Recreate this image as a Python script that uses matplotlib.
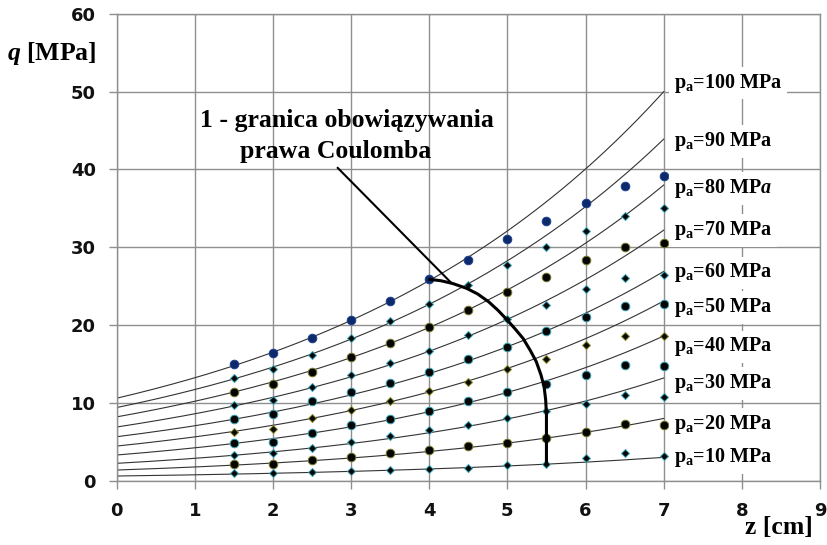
import numpy as np
import matplotlib
matplotlib.use("Agg")
import matplotlib.pyplot as plt

plt.rcParams["mathtext.fontset"] = "custom"
plt.rcParams["mathtext.rm"] = "Liberation Serif:bold"
plt.rcParams["mathtext.bf"] = "Liberation Serif:bold"
plt.rcParams["mathtext.it"] = "Liberation Serif:bold:italic"

# depth z [cm] of the computed points
z_points = [1.5, 2.0, 2.5, 3.0, 3.5, 4.0, 4.5, 5.0, 5.5, 6.0, 6.5, 7.0]

# load q [MPa] for each anchor pressure p_a
q_pa100 = [15.0, 16.4, 18.4, 20.7, 23.1, 25.9, 28.4, 31.1, 33.4, 35.7, 37.9, 39.2]
q_pa90 = [13.2, 14.4, 16.1, 18.3, 20.5, 22.7, 25.2, 27.7, 30.0, 32.1, 34.0, 35.0]
q_pa80 = [11.4, 12.4, 14.0, 15.9, 17.7, 19.8, 21.9, 24.3, 26.2, 28.4, 30.0, 30.6]
q_pa70 = [9.7, 10.4, 12.0, 13.6, 15.1, 16.7, 18.7, 20.8, 22.6, 24.6, 26.1, 26.5]
q_pa60 = [7.9, 8.6, 10.2, 11.4, 12.5, 14.0, 15.6, 17.2, 19.2, 21.1, 22.4, 22.7]
q_pa50 = [6.2, 6.7, 8.0, 9.1, 10.2, 11.5, 12.7, 14.3, 15.6, 17.4, 18.6, 18.6]
q_pa40 = [4.8, 5.0, 6.1, 7.1, 7.9, 9.0, 10.3, 11.4, 12.4, 13.6, 14.9, 14.7]
q_pa30 = [3.3, 3.5, 4.2, 5.0, 5.7, 6.5, 7.2, 8.0, 8.9, 9.9, 11.0, 10.8]
q_pa20 = [2.2, 2.2, 2.6, 3.1, 3.5, 4.0, 4.5, 4.9, 5.5, 6.2, 7.3, 7.1]
q_pa10 = [1.0, 1.0, 1.1, 1.3, 1.4, 1.5, 1.6, 2.0, 2.2, 2.9, 3.6, 3.2]

pa_values = [100, 90, 80, 70, 60, 50, 40, 30, 20, 10]
series = [q_pa100, q_pa90, q_pa80, q_pa70, q_pa60,
          q_pa50, q_pa40, q_pa30, q_pa20, q_pa10]

# exponential trend lines: value at z = 0 and at z = 7
trend_q0 = [10.6, 9.4, 8.2, 6.9, 5.65, 4.45, 3.3, 2.23, 1.37, 0.6]
trend_q7 = [50.0, 43.9, 38.0, 32.2, 26.9, 23.1, 18.6, 13.2, 8.0, 3.0]
trend_z_end = 7.0

# label placement (z, q) for p_a captions
label_q = [51.1, 43.6, 37.6, 32.2, 26.7, 22.3, 17.2, 12.5, 7.2, 3.0]
label_z = 7.13

# boundary of validity of Coulomb's law
boundary_z = [3.99, 4.15, 4.30, 4.48, 4.62, 4.76, 4.88, 4.99, 5.10, 5.20,
              5.29, 5.37, 5.43, 5.47, 5.49, 5.50, 5.50]
boundary_q = [25.9, 25.7, 25.35, 24.72, 24.0, 23.0, 21.9, 20.74, 19.5, 18.3,
              16.8, 15.3, 13.6, 12.1, 10.4, 8.5, 2.15]
leader_z = [2.83, 4.285]
leader_q = [40.2, 25.4]

# marker styles per series
marker_shapes = ["o", "D", "o", "D", "o", "D", "o", "D", "o", "D"]
marker_faces = ["#0d2a6b", "#050505", "#050505", "#050505", "#050505",
                "#0a0a05", "#050505", "#050505", "#050505", "#050505"]
marker_edges = ["#1c3f8f", "#3aa6b8", "#7a7a2a", "#3aa6b8", "#3aa6b8",
                "#8a8a2a", "#3aa6b8", "#3aa6b8", "#7a7a2a", "#3aa6b8"]

grid_color = "#8f8f8f"

fig = plt.figure(figsize=(8.27, 5.45), dpi=100)
ax = fig.add_axes([0.141, 0.118, 0.8505, 0.8565])

ax.set_xlim(0, 9)
ax.set_ylim(0, 60)
ax.set_xticks(range(0, 10))
ax.set_yticks(range(0, 61, 10))
ax.grid(True, color=grid_color, linewidth=1.0)
ax.set_axisbelow(True)
for s in ax.spines.values():
    s.set_color(grid_color)
    s.set_linewidth(1.0)
ax.tick_params(axis="both", direction="out", length=5.5, width=1.0,
               color=grid_color, labelsize=13, labelcolor="#111111")
ax.tick_params(axis="y", pad=9.5)
ax.tick_params(axis="x", pad=10)
for lab in ax.get_xticklabels() + ax.get_yticklabels():
    lab.set_fontweight("bold")
    lab.set_fontfamily("DejaVu Sans")

# trend lines
zz = np.linspace(0, trend_z_end, 300)
for q0, q7 in zip(trend_q0, trend_q7):
    ax.plot(zz, q0 * (q7 / q0) ** (zz / trend_z_end), color="#333333",
            linewidth=0.8, zorder=2)

# computed points
for q, m, fc, ec in zip(series, marker_shapes, marker_faces, marker_edges):
    ms = 6.2 if m == "o" else 4.4
    ax.plot(z_points, q, linestyle="none", marker=m, markersize=ms,
            markerfacecolor=fc, markeredgecolor=ec, markeredgewidth=0.7,
            zorder=3)

# Coulomb boundary and leader line
ax.plot(boundary_z, boundary_q, color="#000000", linewidth=2.2,
        solid_capstyle="butt", zorder=4)
ax.plot(leader_z, leader_q, color="#000000", linewidth=1.5, zorder=4)

serif = "Liberation Serif"
ax.text(2.953, 45.5, "1 - granica obowiązywania", fontsize=18.5,
        fontweight="bold", family=serif, ha="center", va="baseline", zorder=5)
ax.text(2.806, 41.44, "prawa Coulomba", fontsize=18.5,
        fontweight="bold", family=serif, ha="center", va="baseline", zorder=5)

# p_a captions
for pa, yq in zip(pa_values, label_q):
    unit = r"MP$\mathit{a}$" if pa == 80 else "MPa"
    ax.text(label_z, yq, r"p$_\mathbf{a}$=" + f"{pa} " + unit, fontsize=14.5,
            fontweight="bold", family=serif, ha="left", va="center",
            zorder=5, bbox=dict(facecolor="white", edgecolor="none",
                                pad=3.5))

fig.text(0.0085, 0.901, r"$q$ [MPa]", fontsize=18.5, fontweight="bold",
         family=serif, ha="left", va="center")
fig.text(0.983, 0.033, "z [cm]", fontsize=18.5, fontweight="bold",
         family=serif, ha="right", va="center")

fig.savefig("out.png", dpi=100)
